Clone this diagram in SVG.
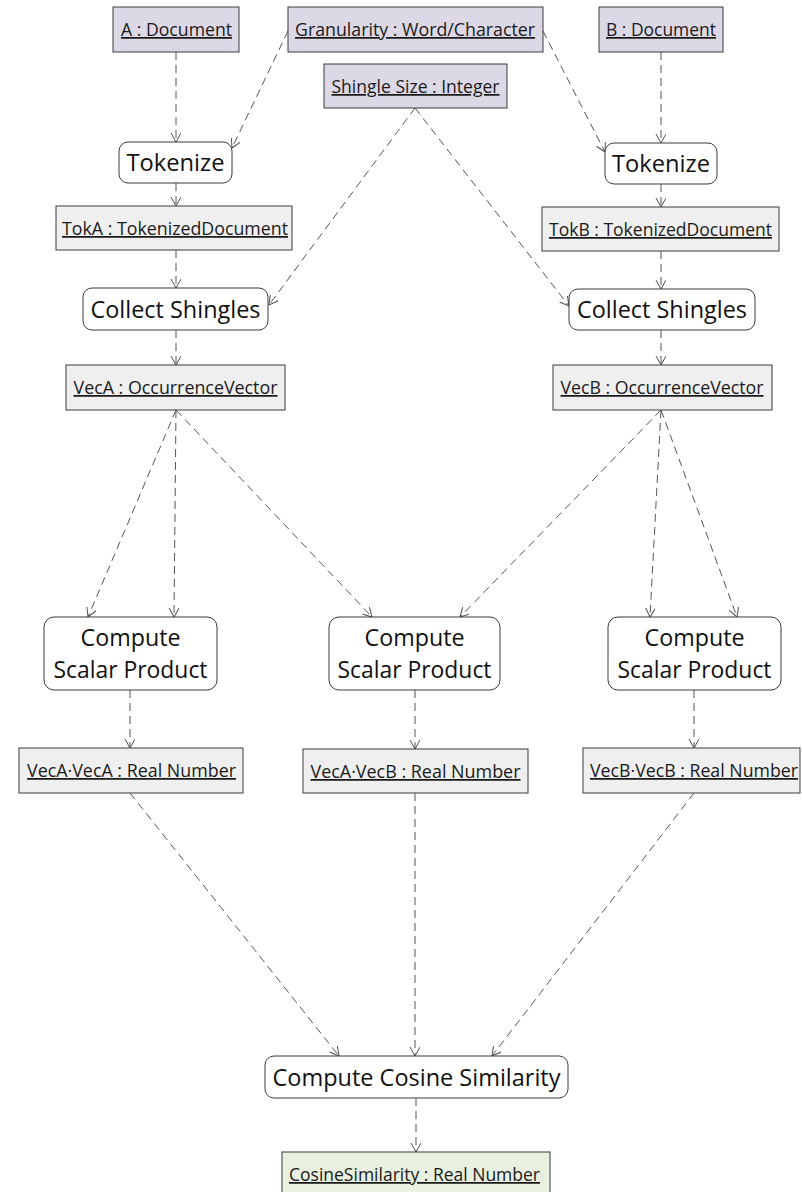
<svg xmlns="http://www.w3.org/2000/svg" width="802" height="1192" viewBox="0 0 802 1192">
  <defs>
    <marker id="open-arrow" markerUnits="userSpaceOnUse" markerWidth="12" markerHeight="12" refX="9" refY="5" orient="auto">
      <path d="M0,0 L9,5 L0,10" fill="none" stroke="#505050" stroke-width="1"/>
    </marker>
    <style>
      .obj { stroke: #3a3a3a; stroke-width: 1; }
      .input { fill: #ddd8e6; }
      .data { fill: #efefef; }
      .result { fill: #e9f0df; }
      .act { fill: #ffffff; stroke: #3a3a3a; stroke-width: 1; }
      .olabel { font-family: "Open Sans", "Liberation Sans", sans-serif; font-size: 17.5px; fill: #1a1a1a; text-anchor: middle; text-decoration: underline; }
      .alabel { font-family: "Open Sans", "Liberation Sans", sans-serif; font-size: 24px; fill: #111111; text-anchor: middle; }
      .flow { fill: none; stroke: #555555; stroke-width: 1; stroke-dasharray: 8 5; marker-end: url(#open-arrow); }
    </style>
  </defs>
  <rect width="802" height="1192" fill="#ffffff"/>

  <!-- object flows -->
  <g id="connectors">
    <line class="flow" x1="176" y1="52" x2="176" y2="142"/>
    <line class="flow" x1="288" y1="31" x2="232" y2="148"/>
    <line class="flow" x1="543" y1="31" x2="605" y2="152"/>
    <line class="flow" x1="661" y1="52" x2="661" y2="143"/>
    <line class="flow" x1="176" y1="183" x2="176" y2="206"/>
    <line class="flow" x1="661" y1="184" x2="661" y2="207"/>
    <line class="flow" x1="176" y1="250" x2="176" y2="288"/>
    <line class="flow" x1="661" y1="251" x2="661" y2="289"/>
    <line class="flow" x1="415" y1="108" x2="269" y2="305"/>
    <line class="flow" x1="415" y1="108" x2="569" y2="306"/>
    <line class="flow" x1="176" y1="330" x2="176" y2="365"/>
    <line class="flow" x1="661" y1="330" x2="661" y2="365"/>
    <line class="flow" x1="176" y1="410" x2="88" y2="617"/>
    <line class="flow" x1="176" y1="410" x2="174" y2="617"/>
    <line class="flow" x1="176" y1="410" x2="372" y2="617"/>
    <line class="flow" x1="661" y1="410" x2="460" y2="617"/>
    <line class="flow" x1="661" y1="410" x2="650" y2="617"/>
    <line class="flow" x1="661" y1="410" x2="737" y2="617"/>
    <line class="flow" x1="130" y1="690" x2="130" y2="748"/>
    <line class="flow" x1="415" y1="690" x2="415" y2="749"/>
    <line class="flow" x1="694" y1="690" x2="694" y2="748"/>
    <line class="flow" x1="130" y1="793" x2="339" y2="1056"/>
    <line class="flow" x1="415" y1="793" x2="415" y2="1056"/>
    <line class="flow" x1="694" y1="793" x2="492" y2="1056"/>
    <line class="flow" x1="416" y1="1098" x2="416" y2="1152"/>
  </g>

  <!-- inputs -->
  <g id="doc-a">
    <rect class="obj input" x="113" y="7" width="126" height="45"/>
    <text class="olabel" x="176.5" y="36" textLength="111" lengthAdjust="spacingAndGlyphs">A : Document</text>
  </g>
  <g id="granularity">
    <rect class="obj input" x="288" y="7" width="255" height="45"/>
    <text class="olabel" x="415" y="36" textLength="240" lengthAdjust="spacingAndGlyphs">Granularity : Word/Character</text>
  </g>
  <g id="doc-b">
    <rect class="obj input" x="599" y="7" width="124" height="45"/>
    <text class="olabel" x="661" y="36" textLength="110" lengthAdjust="spacingAndGlyphs">B : Document</text>
  </g>
  <g id="shingle-size">
    <rect class="obj input" x="324" y="64" width="183" height="44"/>
    <text class="olabel" x="415.5" y="93" textLength="168" lengthAdjust="spacingAndGlyphs">Shingle Size : Integer</text>
  </g>

  <!-- tokenization -->
  <g id="tokenize-a">
    <rect class="act" x="119" y="142" width="113" height="41" rx="9"/>
    <text class="alabel" x="175.5" y="171" textLength="98" lengthAdjust="spacingAndGlyphs">Tokenize</text>
  </g>
  <g id="tokenize-b">
    <rect class="act" x="605" y="143" width="112" height="41" rx="9"/>
    <text class="alabel" x="661" y="172" textLength="98" lengthAdjust="spacingAndGlyphs">Tokenize</text>
  </g>
  <g id="tok-a">
    <rect class="obj data" x="56" y="206" width="236" height="44"/>
    <text class="olabel" x="175" y="235" textLength="226" lengthAdjust="spacingAndGlyphs">TokA : TokenizedDocument</text>
  </g>
  <g id="tok-b">
    <rect class="obj data" x="542" y="207" width="237" height="44"/>
    <text class="olabel" x="660.5" y="236" textLength="223" lengthAdjust="spacingAndGlyphs">TokB : TokenizedDocument</text>
  </g>

  <!-- shingling -->
  <g id="collect-a">
    <rect class="act" x="83" y="288" width="185" height="42" rx="9"/>
    <text class="alabel" x="175.5" y="318" textLength="170" lengthAdjust="spacingAndGlyphs">Collect Shingles</text>
  </g>
  <g id="collect-b">
    <rect class="act" x="569" y="289" width="186" height="41" rx="9"/>
    <text class="alabel" x="662" y="318" textLength="170" lengthAdjust="spacingAndGlyphs">Collect Shingles</text>
  </g>
  <g id="vec-a">
    <rect class="obj data" x="66" y="365" width="219" height="45"/>
    <text class="olabel" x="175.5" y="394" textLength="204" lengthAdjust="spacingAndGlyphs">VecA : OccurrenceVector</text>
  </g>
  <g id="vec-b">
    <rect class="obj data" x="553" y="365" width="219" height="45"/>
    <text class="olabel" x="662" y="394" textLength="203" lengthAdjust="spacingAndGlyphs">VecB : OccurrenceVector</text>
  </g>

  <!-- scalar products -->
  <g id="dot-aa">
    <rect class="act" x="44" y="617" width="173" height="73" rx="10"/>
    <text class="alabel" x="130.5" y="646" textLength="100" lengthAdjust="spacingAndGlyphs">Compute</text>
    <text class="alabel" x="130.5" y="678" textLength="154" lengthAdjust="spacingAndGlyphs">Scalar Product</text>
  </g>
  <g id="dot-ab">
    <rect class="act" x="329" y="617" width="171" height="73" rx="10"/>
    <text class="alabel" x="414.5" y="646" textLength="100" lengthAdjust="spacingAndGlyphs">Compute</text>
    <text class="alabel" x="414.5" y="678" textLength="154" lengthAdjust="spacingAndGlyphs">Scalar Product</text>
  </g>
  <g id="dot-bb">
    <rect class="act" x="608" y="617" width="173" height="73" rx="10"/>
    <text class="alabel" x="694.5" y="646" textLength="100" lengthAdjust="spacingAndGlyphs">Compute</text>
    <text class="alabel" x="694.5" y="678" textLength="154" lengthAdjust="spacingAndGlyphs">Scalar Product</text>
  </g>
  <g id="num-aa">
    <rect class="obj data" x="19" y="748" width="224" height="45"/>
    <text class="olabel" x="131.5" y="777" textLength="209" lengthAdjust="spacingAndGlyphs">VecA·VecA : Real Number</text>
  </g>
  <g id="num-ab">
    <rect class="obj data" x="303" y="749" width="225" height="44"/>
    <text class="olabel" x="415.5" y="778" textLength="210" lengthAdjust="spacingAndGlyphs">VecA·VecB : Real Number</text>
  </g>
  <g id="num-bb">
    <rect class="obj data" x="583" y="748" width="217" height="45"/>
    <text class="olabel" x="694" y="777" textLength="208" lengthAdjust="spacingAndGlyphs">VecB·VecB : Real Number</text>
  </g>

  <!-- final step -->
  <g id="cosine">
    <rect class="act" x="265" y="1056" width="303" height="42" rx="9"/>
    <text class="alabel" x="416.5" y="1086" textLength="288" lengthAdjust="spacingAndGlyphs">Compute Cosine Similarity</text>
  </g>
  <g id="cosine-result">
    <rect class="obj result" x="282" y="1152" width="268" height="46"/>
    <text class="olabel" x="414.5" y="1181" textLength="251" lengthAdjust="spacingAndGlyphs">CosineSimilarity : Real Number</text>
  </g>
</svg>
